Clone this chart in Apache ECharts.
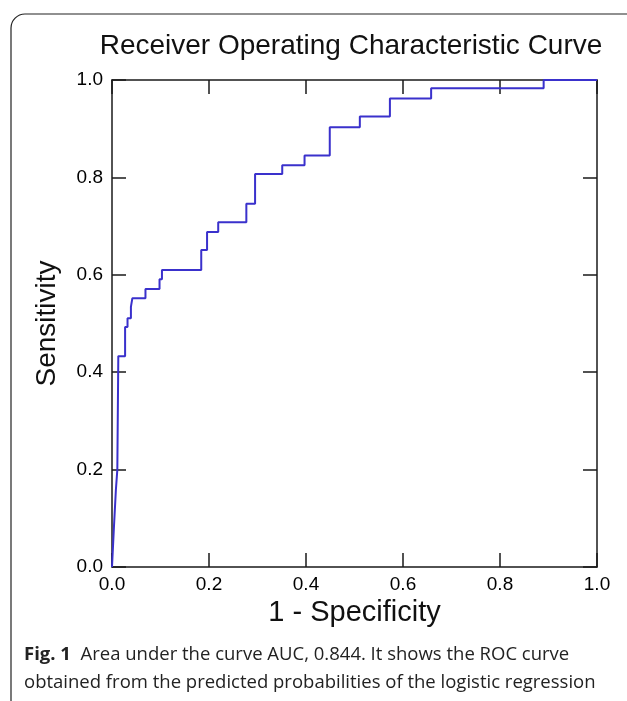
<!doctype html>
<html>
<head>
<meta charset="utf-8">
<title>ROC curve</title>
<script src="https://cdn.jsdelivr.net/npm/echarts@6/dist/echarts.min.js"></script>
<style>
  html, body { margin: 0; padding: 0; background: #fff; }
  #main { width: 627px; height: 701px; }
</style>
</head>
<body>
<div id="main"></div>
<script type="text/javascript">
// ROC points: 1 - specificity / sensitivity
var fpr = [0, 0.004, 0.008, 0.011, 0.013, 0.027, 0.032, 0.039, 0.042, 0.069, 0.098, 0.103,
           0.184, 0.196, 0.219, 0.277, 0.295, 0.351, 0.397, 0.449, 0.511, 0.573, 0.658, 0.890, 1.0];
var tpr = [0, 0.082, 0.158, 0.200, 0.433, 0.493, 0.511, 0.534, 0.552, 0.571, 0.591, 0.610,
           0.651, 0.688, 0.708, 0.746, 0.807, 0.825, 0.845, 0.903, 0.925, 0.962, 0.983, 1.0, 1.0];
var tickLabels = ['0.0', '0.2', '0.4', '0.6', '0.8', '1.0'];

var rocData = [];
for (var i = 0; i < fpr.length; i++) rocData.push([fpr[i], tpr[i]]);

var myChart = echarts.init(document.getElementById('main'));

var axisLine = { onZero: false, lineStyle: { color: '#1a1a1a', width: 1.5 } };
var axisTick = { inside: true, length: 14, lineStyle: { color: '#1a1a1a', width: 1.5 } };
var fmt = function (v) { return tickLabels[Math.round(v * 5)]; };
var labelFont = 'Liberation Sans, Arial, sans-serif';

var option = {
    animation: false,
    backgroundColor: '#fff',
    title: {
        text: 'Receiver Operating Characteristic Curve',
        left: 346,
        top: 27,
        textAlign: 'center',
        textStyle: { fontFamily: labelFont, fontSize: 28, fontWeight: 'normal', color: '#111' }
    },
    grid: { left: 112, right: 30, top: 80, bottom: 134 },
    xAxis: [{
        type: 'value', min: 0, max: 1, interval: 0.2, position: 'bottom',
        axisLine: axisLine, axisTick: axisTick, splitLine: { show: false },
        axisLabel: { formatter: fmt, margin: 8, fontSize: 19, color: '#000', fontFamily: labelFont },
        name: '1 - Specificity', nameLocation: 'middle', nameGap: 22,
        nameTextStyle: { fontSize: 29, color: '#111', fontFamily: labelFont }
    }, {
        type: 'value', min: 0, max: 1, interval: 0.2, position: 'top',
        axisLine: axisLine, axisTick: axisTick, splitLine: { show: false },
        axisLabel: { show: false }
    }],
    yAxis: [{
        type: 'value', min: 0, max: 1, interval: 0.2, position: 'left',
        axisLine: axisLine, axisTick: axisTick, splitLine: { show: false },
        axisLabel: { formatter: fmt, margin: 9, fontSize: 19, color: '#000', fontFamily: labelFont },
        name: 'Sensitivity', nameLocation: 'middle', nameGap: 51,
        nameTextStyle: { fontSize: 28, color: '#111', fontFamily: labelFont }
    }, {
        type: 'value', min: 0, max: 1, interval: 0.2, position: 'right',
        axisLine: axisLine, axisTick: axisTick, splitLine: { show: false },
        axisLabel: { show: false }
    }],
    series: [{
        type: 'line',
        data: rocData,
        step: 'end',
        showSymbol: false,
        clip: false,
        xAxisIndex: 0,
        yAxisIndex: 0,
        z: 5,
        lineStyle: { color: '#3a31cc', width: 2 }
    }],
    graphic: [{
        type: 'rect',
        shape: { x: 11, y: 14, width: 640, height: 700, r: 14 },
        style: { fill: 'none', stroke: '#222', lineWidth: 1.2 },
        silent: true
    }, {
        type: 'text',
        left: 24,
        top: 641,
        style: {
            text: '{b|Fig. 1}  Area under the curve AUC, 0.844. It shows the ROC curve\nobtained from the predicted probabilities of the logistic regression',
            fontFamily: 'Open Sans, sans-serif',
            fontSize: 18.5,
            lineHeight: 28,
            fill: '#222',
            rich: {
                b: { fontWeight: 'bold', fontFamily: 'Open Sans, sans-serif', fontSize: 18.5, lineHeight: 28, fill: '#222' }
            }
        }
    }]
};
myChart.setOption(option);
</script>
</body>
</html>
